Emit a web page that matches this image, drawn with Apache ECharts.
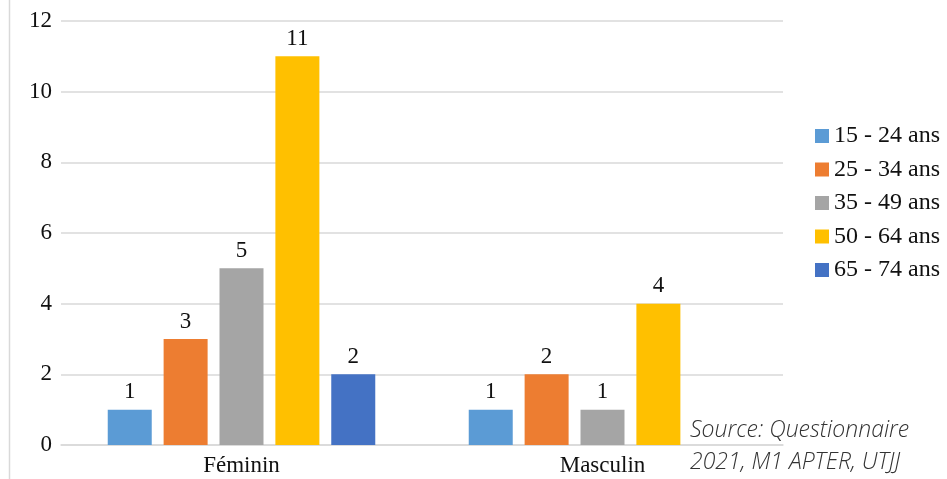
<!DOCTYPE html>
<html>
<head>
<meta charset="utf-8">
<script src="https://cdn.jsdelivr.net/npm/echarts@6/dist/echarts.min.js"></script>
<style>
  html, body { margin: 0; padding: 0; background: #fff; }
  #chart { width: 947px; height: 479px; }
</style>
</head>
<body>
<div id="chart"></div>
<script>
// Respondents by sex and age group
const categories = ['Féminin', 'Masculin'];
const ageGroups = ['15 - 24 ans', '25 - 34 ans', '35 - 49 ans', '50 - 64 ans', '65 - 74 ans'];
const age15to24 = [1, 1];
const age25to34 = [3, 2];
const age35to49 = [5, 1];
const age50to64 = [11, 4];
const age65to74 = [2, null];
const yTicks = [0, 2, 4, 6, 8, 10, 12];

const colors = ['#5B9BD5', '#ED7D31', '#A5A5A5', '#FFC000', '#4472C4'];
const seriesValues = [age15to24, age25to34, age35to49, age50to64, age65to74];
const serif = 'Times New Roman, Liberation Serif, serif';
const textColor = '#111';

const chart = echarts.init(document.getElementById('chart'));

chart.setOption({
  animation: false,
  color: colors,
  grid: { left: 61, right: 164, top: 21, bottom: 34 },
  legend: {
    orient: 'vertical',
    left: 810,
    top: 119,
    itemWidth: 14,
    itemHeight: 14,
    itemGap: 9.5,
    icon: 'rect',
    textStyle: { fontFamily: serif, fontSize: 24, color: textColor, padding: [0, 0, 0, 0] },
    data: ageGroups
  },
  xAxis: {
    type: 'category',
    data: categories,
    axisLine: { show: true, lineStyle: { color: '#d9d9d9', width: 1.5 } },
    axisTick: { show: false },
    axisLabel: { fontFamily: serif, fontSize: 23, color: textColor, margin: 9 }
  },
  yAxis: {
    type: 'value',
    min: yTicks[0],
    max: yTicks[yTicks.length - 1],
    interval: yTicks[1] - yTicks[0],
    axisLine: { show: false },
    axisTick: { show: false },
    splitLine: { lineStyle: { color: '#d9d9d9', width: 1.5 } },
    axisLabel: { fontFamily: serif, fontSize: 23, color: textColor, margin: 9 }
  },
  series: ageGroups.map((name, i) => ({
    name: name,
    type: 'bar',
    data: seriesValues[i],
    barWidth: 44,
    barGap: '27%',
    itemStyle: { color: colors[i] },
    label: {
      show: true,
      position: 'top',
      distance: 6,
      fontFamily: serif,
      fontSize: 23,
      color: textColor
    }
  })),
  graphic: [
    {
      type: 'line',
      shape: { x1: 9.5, y1: 0, x2: 9.5, y2: 479 },
      style: { stroke: '#d9d9d9', lineWidth: 1.5 }
    },
    {
      type: 'text',
      left: 690,
      top: 414,
      style: {
        text: 'Source: Questionnaire\n2021, M1 APTER, UTJJ',
        fontFamily: 'Open Sans, sans-serif',
        fontStyle: 'italic',
        fontWeight: 300,
        fontSize: 23,
        lineHeight: 32,
        fill: '#333'
      }
    }
  ]
});
</script>
</body>
</html>
